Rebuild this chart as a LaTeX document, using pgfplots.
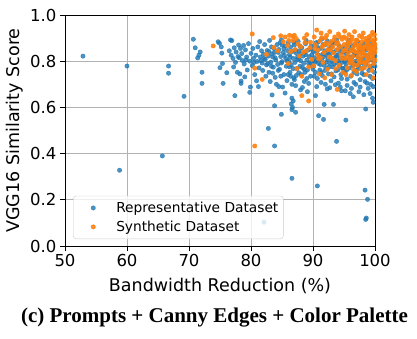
\documentclass[border=0pt]{standalone}
\usepackage{fontspec}
\setmainfont{DejaVu Sans}
\newfontfamily\capfont{Liberation Serif}
\usepackage{pgfplots}
\pgfplotsset{compat=1.18}
\definecolor{mblue}{HTML}{1F77B4}
\definecolor{morange}{HTML}{FF7F0E}
\pgfplotsset{
  dotlegend/.style={legend image code/.code={\path[draw=none,fill=none] (0pt,-3pt) rectangle (38pt,3pt);
    \draw[mark repeat=2,mark phase=2,##1] plot coordinates {(0pt,0pt)(17pt,0pt)(34pt,0pt)};}},
}
\begin{document}
\begin{tikzpicture}
\begin{axis}[
  scale only axis, width=310pt, height=231pt,
  xmin=50, xmax=100, ymin=0, ymax=1,
  xtick={50,60,70,80,90,100}, ytick={0,0.2,0.4,0.6,0.8,1.0},
  grid=major, grid style={color=black!30, line width=0.8pt},
  axis line style={line width=0.9pt},
  tick align=outside, xtick pos=bottom, ytick pos=left,
  major tick length=5pt, tick style={black, line width=0.9pt},
  ticklabel style={font=\fontsize{16.5}{18}\selectfont},
  xticklabel style={/pgf/number format/assume math mode=true},
  yticklabel style={/pgf/number format/.cd, fixed, fixed zerofill, precision=1, assume math mode=true},
  xlabel={Bandwidth Reduction (\%)}, ylabel={VGG16 Similarity Score},
  label style={font=\fontsize{17.5}{20}\selectfont},
  xlabel style={yshift=-4pt},
  legend style={at={(0.026,0.03)}, anchor=south west, draw=black!20, rounded corners=3pt,
    fill=white, fill opacity=0.8, text opacity=1, font=\fontsize{13.75}{16}\selectfont,
    row sep=3pt, inner xsep=3pt, inner ysep=4pt},
  legend cell align=left,
]
% Representative Dataset
\addplot[only marks, mark=*, mark size=2.2pt, mark options={fill=mblue, draw=mblue, opacity=0.8}, dotlegend] coordinates {
(52.9,0.822)(60.0,0.779)(66.7,0.779)(66.7,0.748)(69.2,0.648)(70.7,0.895)(71.0,0.858)(71.8,0.840)(71.6,0.826)(71.4,0.814)(72.1,0.752)(72.1,0.704)(58.8,0.328)(65.7,0.390)
(82.8,0.509)(83.8,0.433)(93.8,0.453)(86.6,0.293)(90.7,0.260)(98.4,0.242)(98.8,0.202)(98.6,0.121)(98.5,0.115)(82.1,0.103)(84.9,0.570)(91.7,0.548)(95.3,0.545)(90.9,0.564)(87.2,0.579)(86.6,0.590)(86.7,0.600)(86.5,0.615)(86.8,0.628)(86.6,0.640)(83.8,0.607)(83.4,0.654)(81.2,0.690)(79.8,0.665)(77.4,0.651)(78.4,0.714)(78.4,0.704)(75.5,0.704)(90.4,0.651)(91.8,0.613)(93.3,0.613)(98.5,0.593)(99.7,0.622)(99.6,0.640)(98.2,0.655)(97.4,0.668)(96.0,0.660)(94.6,0.672)(92.3,0.680)(89.1,0.668)(88.0,0.676)(85.5,0.662)(84.5,0.690)(96.5,0.646)(95.2,0.672)(99.2,0.660)
(74.7,0.884)(74.9,0.878)(75.2,0.862)(75.0,0.772)(75.4,0.790)(75.3,0.835)(76.1,0.750)(76.7,0.892)(76.9,0.889)(76.5,0.845)(76.8,0.826)(77.1,0.812)(77.3,0.858)(77.6,0.840)(77.9,0.820)(77.5,0.795)(77.8,0.752)(78.2,0.745)(78.0,0.870)(77.2,0.775)
(78.3,0.855)(78.5,0.833)(78.8,0.868)(78.6,0.803)(78.9,0.788)(79.1,0.849)(79.3,0.818)(79.6,0.876)(79.4,0.762)(79.8,0.800)(80.0,0.834)(80.2,0.781)(80.4,0.812)(80.3,0.855)(80.6,0.742)(80.8,0.826)(81.0,0.799)(81.1,0.862)(81.3,0.771)(81.5,0.818)(81.7,0.845)(81.4,0.885)(81.8,0.792)(81.9,0.760)(82.0,0.830)(79.0,0.732)(80.9,0.715)(79.9,0.688)
(82.2,0.872)(82.3,0.808)(82.5,0.784)(82.6,0.846)(82.8,0.822)(82.9,0.752)(83.0,0.890)(83.2,0.796)(83.3,0.862)(83.5,0.818)(83.6,0.774)(83.8,0.838)(83.9,0.730)(84.0,0.805)(84.2,0.872)(84.3,0.786)(84.5,0.851)(84.6,0.765)(84.8,0.820)(84.9,0.892)(85.0,0.798)(85.2,0.838)(85.3,0.742)(85.5,0.866)(85.6,0.812)(85.7,0.778)(85.9,0.846)(85.8,0.716)(83.1,0.712)(84.1,0.700)(82.4,0.735)(85.1,0.688)(84.7,0.880)(83.7,0.855)(82.7,0.790)(85.4,0.825)(84.4,0.760)(83.4,0.832)(82.1,0.812)(86.0,0.880)
(86.1,0.800)(86.2,0.828)(86.3,0.752)(86.4,0.862)(86.5,0.785)(86.7,0.842)(86.8,0.812)(86.9,0.728)(87.0,0.870)(87.1,0.795)(87.3,0.835)(87.4,0.768)(87.5,0.818)(87.6,0.886)(87.8,0.845)(87.9,0.778)(88.0,0.802)(88.1,0.742)(88.2,0.858)(88.4,0.822)(88.5,0.790)(88.6,0.712)(88.7,0.838)(88.8,0.875)(89.0,0.805)(89.1,0.762)(89.2,0.848)(89.4,0.820)(89.5,0.782)(89.6,0.735)(89.7,0.866)(89.9,0.800)(86.6,0.700)(87.2,0.694)(88.3,0.686)(89.3,0.704)(87.7,0.750)(86.9,0.882)(88.9,0.890)(89.8,0.828)(87.5,0.808)(86.2,0.776)(88.6,0.765)(89.0,0.725)(87.0,0.720)(86.4,0.735)(88.0,0.832)(89.6,0.795)
(90.0,0.842)(90.1,0.778)(90.2,0.815)(90.3,0.868)(90.4,0.752)(90.5,0.800)(90.6,0.836)(90.7,0.725)(90.8,0.882)(90.9,0.790)(91.0,0.825)(91.1,0.762)(91.2,0.855)(91.4,0.805)(91.5,0.738)(91.6,0.872)(91.7,0.818)(91.8,0.782)(91.9,0.845)(92.0,0.700)(92.1,0.828)(92.2,0.768)(92.3,0.888)(92.4,0.808)(92.5,0.745)(92.6,0.852)(92.7,0.790)(92.8,0.832)(92.9,0.715)(93.0,0.862)(93.1,0.800)(93.2,0.775)(93.3,0.840)(93.4,0.732)(93.5,0.880)(93.6,0.815)(93.7,0.758)(93.8,0.848)(93.9,0.792)(94.0,0.825)(94.1,0.705)(94.2,0.868)(94.3,0.780)(94.4,0.810)(94.5,0.742)(94.6,0.855)(94.7,0.795)(94.8,0.838)(94.9,0.768)(90.6,0.690)(91.3,0.708)(92.7,0.685)(93.6,0.698)(94.4,0.688)(91.9,0.760)(93.0,0.745)(90.2,0.735)(92.0,0.872)(93.8,0.892)(94.6,0.725)(91.4,0.895)(90.8,0.810)(92.4,0.835)(93.3,0.812)(94.2,0.802)
(95.0,0.815)(95.1,0.752)(95.2,0.862)(95.3,0.790)(95.4,0.832)(95.5,0.722)(95.6,0.878)(95.7,0.805)(95.8,0.770)(95.9,0.848)(96.0,0.795)(96.1,0.735)(96.2,0.858)(96.3,0.818)(96.4,0.780)(96.5,0.842)(96.6,0.708)(96.7,0.872)(96.8,0.800)(96.9,0.760)(97.0,0.828)(97.1,0.745)(97.2,0.885)(97.3,0.812)(97.4,0.778)(97.5,0.850)(97.6,0.720)(97.7,0.795)(97.8,0.865)(97.9,0.835)(98.0,0.768)(98.1,0.808)(98.2,0.742)(98.3,0.878)(98.4,0.822)(98.5,0.785)(98.6,0.848)(98.7,0.705)(98.8,0.800)(98.9,0.862)(99.0,0.760)(99.1,0.830)(99.2,0.735)(99.3,0.872)(99.4,0.805)(99.5,0.778)(99.6,0.845)(99.7,0.690)(99.8,0.815)(99.9,0.752)(100.0,0.858)(99.9,0.795)(99.6,0.725)(99.3,0.700)(98.9,0.682)(98.4,0.712)(97.6,0.688)(96.9,0.700)(96.2,0.682)(95.5,0.695)(95.8,0.892)(96.6,0.825)(97.3,0.768)(98.1,0.852)(99.0,0.890)(99.8,0.870)(100.0,0.778)(100.0,0.822)(99.5,0.840)(97.0,0.790)(95.4,0.760)
(82.9,0.842)(83.3,0.778)(83.9,0.815)(84.4,0.838)(84.9,0.792)(85.3,0.855)(85.8,0.802)(86.3,0.818)(86.8,0.768)(87.2,0.848)(87.7,0.812)(88.3,0.772)(88.8,0.828)(89.3,0.790)(89.8,0.852)(90.3,0.798)(90.7,0.862)(91.2,0.785)(91.6,0.832)(92.1,0.795)(92.5,0.818)(92.9,0.860)(93.4,0.788)(93.8,0.825)(94.3,0.842)(94.7,0.770)(95.1,0.798)(95.6,0.842)(96.0,0.818)(96.4,0.862)(96.8,0.785)(97.2,0.838)(97.7,0.808)(98.1,0.790)(98.6,0.825)(99.0,0.808)(99.5,0.862)(99.9,0.830)(83.5,0.748)(84.8,0.735)(86.0,0.742)(87.3,0.738)(88.7,0.752)(90.0,0.765)(91.3,0.752)(92.6,0.775)(94.0,0.762)(95.3,0.775)(96.6,0.752)(97.9,0.748)(99.2,0.775)(85.0,0.870)(87.9,0.865)(90.5,0.880)(93.1,0.880)(95.9,0.870)(98.6,0.880)(81.6,0.802)(80.5,0.795)(79.2,0.805)(78.1,0.815)
};
\addlegendentry{Representative Dataset}
% Synthetic Dataset
\addplot[only marks, mark=*, mark size=2.2pt, mark options={fill=morange, draw=morange, opacity=0.9}, dotlegend] coordinates {
(73.9,0.866)(80.2,0.918)(80.6,0.770)(81.8,0.721)(80.6,0.433)(88.2,0.651)(89.3,0.628)(93.9,0.678)(82.5,0.830)(83.6,0.902)(83.7,0.860)
(84.8,0.910)(85.5,0.905)(86.2,0.912)(86.7,0.908)(86.8,0.890)(87.3,0.898)(87.6,0.875)(87.1,0.850)(88.0,0.862)(88.4,0.838)(88.9,0.845)(89.3,0.775)(85.2,0.884)(85.9,0.868)(86.4,0.842)(87.8,0.822)(88.6,0.900)(89.0,0.915)(89.6,0.882)(89.8,0.808)(84.3,0.845)(86.0,0.790)(87.4,0.768)(88.2,0.735)(89.5,0.858)
(90.6,0.935)(90.2,0.905)(90.4,0.872)(90.8,0.848)(90.9,0.810)(91.1,0.888)(91.3,0.922)(91.5,0.862)(91.6,0.795)(91.8,0.838)(92.0,0.900)(92.1,0.878)(92.3,0.765)(92.4,0.850)(92.6,0.818)(92.7,0.928)(92.9,0.885)(93.0,0.742)(93.2,0.862)(93.3,0.835)(93.5,0.905)(93.6,0.802)(93.8,0.875)(93.9,0.850)(94.1,0.918)(94.2,0.782)(94.4,0.862)(94.5,0.828)(94.7,0.895)(94.8,0.752)(94.9,0.845)(90.1,0.780)(91.0,0.745)(91.9,0.728)(93.1,0.812)(92.2,0.912)(94.0,0.880)(91.7,0.870)(90.7,0.828)(93.7,0.768)
(95.0,0.872)(95.1,0.930)(95.2,0.812)(95.3,0.850)(95.4,0.898)(95.5,0.772)(95.6,0.865)(95.7,0.835)(95.8,0.915)(95.9,0.792)(96.0,0.880)(96.1,0.848)(96.2,0.738)(96.3,0.905)(96.4,0.822)(96.5,0.862)(96.6,0.785)(96.7,0.928)(96.8,0.875)(96.9,0.840)(97.0,0.755)(97.1,0.892)(97.2,0.818)(97.3,0.858)(97.4,0.802)(97.5,0.910)(97.6,0.870)(97.7,0.832)(97.8,0.768)(97.9,0.885)(98.0,0.848)(98.1,0.922)(98.2,0.795)(98.3,0.862)(98.4,0.825)(98.5,0.898)(98.6,0.742)(98.7,0.875)(98.8,0.810)(98.9,0.852)(99.0,0.905)(99.1,0.780)(99.2,0.868)(99.3,0.835)(99.4,0.892)(99.5,0.812)(99.6,0.925)(99.7,0.855)(99.8,0.790)(99.9,0.878)(100.0,0.838)(100.0,0.805)(99.8,0.862)(99.5,0.760)(99.0,0.828)(98.3,0.772)(97.6,0.795)(96.9,0.890)(96.0,0.808)(95.3,0.742)(99.9,0.915)(99.4,0.845)(98.8,0.885)(97.3,0.838)(96.5,0.765)(100.0,0.870)(99.7,0.728)(98.1,0.858)
(90.3,0.855)(91.4,0.902)(92.5,0.872)(93.4,0.892)(94.3,0.905)(94.6,0.812)(95.0,0.905)(95.7,0.880)(96.2,0.892)(96.6,0.845)(97.0,0.872)(97.5,0.858)(97.9,0.905)(98.2,0.835)(98.6,0.888)(99.0,0.862)(99.3,0.910)(99.7,0.885)(100.0,0.895)(100.0,0.852)(99.6,0.822)(98.9,0.800)(98.4,0.790)(97.8,0.815)(97.1,0.782)(96.3,0.802)(95.6,0.818)(88.7,0.880)(87.0,0.912)(86.1,0.890)(91.2,0.815)(92.8,0.850)
};
\addlegendentry{Synthetic Dataset}
\end{axis}
\node[font=\capfont\bfseries\fontsize{21}{24}\selectfont] at (149.5pt,-72pt) {(c) Prompts + Canny Edges + Color Palette};
\path (-65pt,-92pt) rectangle (352pt,246pt);
\end{tikzpicture}
\end{document}
